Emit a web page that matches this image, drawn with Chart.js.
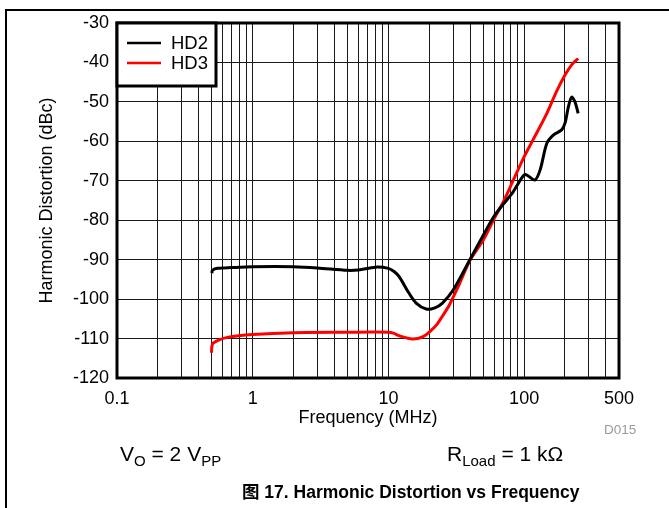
<!DOCTYPE html>
<html>
<head>
<meta charset="utf-8">
<script src="https://cdn.jsdelivr.net/npm/chart.js@4.4.1/dist/chart.umd.min.js"></script>
<style>
  html, body { margin: 0; padding: 0; background: #fff; }
  #wrap { position: relative; width: 669px; height: 508px; overflow: hidden; font-family: "Liberation Sans", Arial, sans-serif; }
  #c { position: absolute; left: 0; top: 0; }
  .frameL { position: absolute; left: 5px; top: 9px; width: 2px; height: 499px; background: #000; }
  .frameT { position: absolute; left: 5px; top: 9px; width: 664px; height: 2px; background: #000; }
  .note { position: absolute; font-size: 21px; color: #000; white-space: nowrap; }
  .note sub { font-size: 15px; vertical-align: -5px; line-height: 0; }
  .code { position: absolute; font-size: 13.5px; color: #9a9a9a; }
  .cap { position: absolute; font-size: 17.5px; font-weight: bold; white-space: nowrap; font-family: "Liberation Sans", Arial, "Noto Sans CJK SC", sans-serif; }
  .cap .cjk { font-family: "Noto Sans CJK SC", sans-serif; font-weight: bold; }
</style>
</head>
<body>
<div id="wrap">
  <canvas id="c" width="669" height="508"></canvas>
  <div class="frameL"></div>
  <div class="frameT"></div>
  <div class="code" style="left:604px; top:422px;">D015</div>
  <div class="note" style="left:120px; top:442px;">V<sub>O</sub> = 2 V<sub>PP</sub></div>
  <div class="note" style="left:447px; top:442px;">R<sub>Load</sub> = 1 k&Omega;</div>
  <div class="cap" style="left:242px; top:478px;"><span class="cjk">图</span> 17. Harmonic Distortion vs Frequency</div>
</div>
<script>
// ---- data ----
const seriesNames = ["HD2", "HD3"];
const hd2Freq = [0.50, 0.505, 0.55, 0.7, 1, 2, 3, 5, 6, 8, 10, 11, 12, 14, 16, 19, 22, 25, 30, 40, 50, 60, 70, 83, 98.7, 104, 120, 131, 147, 164, 189, 200, 212, 224, 237, 250];
const hd2Val  = [-93.4, -92.7, -92.2, -92.0, -91.8, -91.8, -92.1, -92.7, -92.6, -91.9, -92.2, -93.0, -94.3, -98.2, -101.0, -102.5, -102.2, -101.0, -97.7, -89.9, -83.8, -79.0, -76.0, -72.8, -68.7, -68.5, -69.8, -67.3, -60.5, -58.4, -57.1, -55.4, -51.2, -48.8, -50.0, -52.9];
const hd3Freq = [0.497, 0.50, 0.51, 0.55, 0.65, 1, 2, 5, 10, 11, 12, 15, 18, 21, 23, 25, 28, 33, 40, 50, 59.3, 70.3, 83.3, 98.7, 116, 147, 173, 200, 224, 250];
const hd3Val  = [-113.6, -112.0, -111.2, -110.5, -109.7, -109.0, -108.5, -108.4, -108.4, -108.7, -109.3, -110.1, -109.5, -107.7, -106.2, -104.3, -101.6, -96.5, -90.1, -85.0, -80.0, -75.3, -69.8, -64.3, -59.7, -52.9, -47.4, -43.2, -40.6, -39.0];
const xGridTicks = [0.1,0.2,0.3,0.4,0.5,0.6,0.7,0.8,0.9,1,2,3,4,5,6,7,8,9,10,20,30,40,50,60,70,80,90,100,200,300,400,500];
const xLabelTicks = [0.1, 1, 10, 100, 500];
const yMin = -120, yMax = -30, yStep = 10;

const toPts = (fs, vs) => fs.map((f, i) => ({x: f, y: vs[i]}));
const FONT = "'Liberation Sans', Arial, sans-serif";

const framePlugin = {
  id: 'frame',
  afterDatasetsDraw(chart) {
    const {ctx, chartArea: a} = chart;
    ctx.save();
    ctx.strokeStyle = '#000';
    ctx.lineWidth = 3;
    ctx.strokeRect(a.left, a.top, a.right - a.left, a.bottom - a.top);
    // legend box inside the plot
    const bx = a.left, by = a.top, bw = 99, bh = 63;
    ctx.fillStyle = '#fff';
    ctx.fillRect(bx, by, bw, bh);
    ctx.strokeRect(bx, by, bw, bh);
    chart.data.datasets.forEach((ds, i) => {
      const y = by + 20 + i * 20;
      ctx.beginPath();
      ctx.strokeStyle = ds.borderColor;
      ctx.lineWidth = 2.5;
      ctx.moveTo(bx + 10, y);
      ctx.lineTo(bx + 44, y);
      ctx.stroke();
      ctx.fillStyle = '#000';
      ctx.font = "18.5px " + FONT;
      ctx.textBaseline = 'middle';
      ctx.fillText(ds.label, bx + 54, y + 1);
    });
    ctx.restore();
  }
};

new Chart(document.getElementById('c'), {
  type: 'line',
  data: {
    datasets: [
      { label: seriesNames[0], data: toPts(hd2Freq, hd2Val), borderColor: '#000000', borderWidth: 3, pointRadius: 0, tension: 0.3, fill: false },
      { label: seriesNames[1], data: toPts(hd3Freq, hd3Val), borderColor: '#ff0000', borderWidth: 3, pointRadius: 0, tension: 0.3, fill: false }
    ]
  },
  options: {
    responsive: false,
    animation: false,
    devicePixelRatio: 1,
    layout: { padding: { top: 23, right: 50, left: 0, bottom: 0 } },
    plugins: { legend: { display: false }, tooltip: { enabled: false } },
    scales: {
      x: {
        type: 'logarithmic',
        min: 0.1, max: 500,
        afterBuildTicks: s => { s.ticks = xGridTicks.map(v => ({value: v})); },
        afterFit: s => { s.height = 130; },
        grid: { color: '#1a1a1a', lineWidth: 1, drawTicks: false },
        border: { display: false },
        ticks: {
          autoSkip: false, maxRotation: 0, padding: 10, color: '#000',
          font: { family: FONT, size: 18 },
          callback: v => xLabelTicks.includes(v) ? String(v) : ''
        },
        title: { display: true, text: 'Frequency (MHz)', color: '#000', font: { family: FONT, size: 18 }, padding: { top: 0, bottom: 79 } }
      },
      y: {
        min: yMin, max: yMax,
        afterFit: s => { s.width = 117; },
        grid: { color: '#1a1a1a', lineWidth: 1, drawTicks: false },
        border: { display: false },
        ticks: { stepSize: yStep, padding: 8, color: '#000', font: { family: FONT, size: 18 } },
        title: { display: true, text: 'Harmonic Distortion (dBc)', color: '#000', font: { family: FONT, size: 18 }, padding: { top: 36, bottom: 0 } }
      }
    }
  },
  plugins: [framePlugin]
});
</script>
</body>
</html>
